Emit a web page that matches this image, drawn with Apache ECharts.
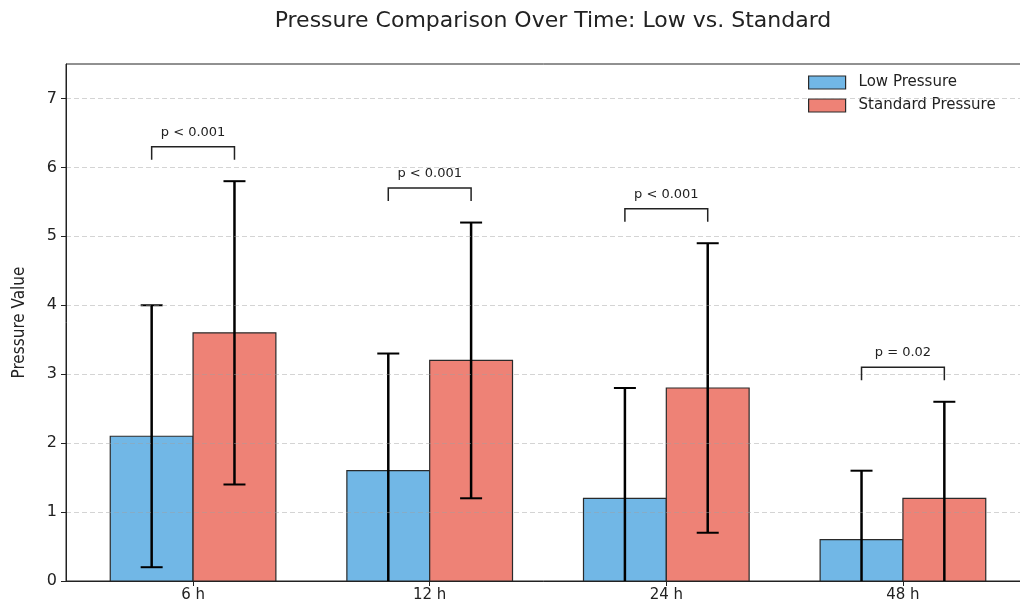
<!DOCTYPE html>
<html>
<head>
<meta charset="utf-8">
<script src="https://cdn.jsdelivr.net/npm/echarts@6/dist/echarts.min.js"></script>
<style>html,body{margin:0;padding:0;background:#fff;}#chart{width:1020px;height:604px;}</style>
</head>
<body>
<div id="chart"></div>
<script>
var categories = ['6 h', '12 h', '24 h', '48 h'];
var lowMeans = [2.1, 1.6, 1.2, 0.6];
var lowErr = [1.9, 1.7, 1.6, 1.0];
var stdMeans = [3.6, 3.2, 2.8, 1.2];
var stdErr = [2.2, 2.0, 2.1, 1.4];
var pLabels = ['p < 0.001', 'p < 0.001', 'p < 0.001', 'p = 0.02'];
var yTicks = [0, 1, 2, 3, 4, 5, 6, 7];

var BAR_W = 0.35;
var FONT = '"DejaVu Sans", "Noto Sans", sans-serif';
var lowColor = '#71B7E6';
var stdColor = '#EE8276';

function barRender(offset, color) {
  return function (params, api) {
    var x = api.value(0) + offset;
    var v = api.value(1);
    var e = api.value(2);
    var p0 = api.coord([x - BAR_W / 2, v]);
    var p1 = api.coord([x + BAR_W / 2, 0]);
    var top = api.coord([x, v + e]);
    var lowV = Math.max(0, v - e);
    var bot = api.coord([x, lowV]);
    var cap = 11;
    var children = [
      {type: 'rect', shape: {x: p0[0], y: p0[1], width: p1[0] - p0[0], height: p1[1] - p0[1]},
       style: {fill: color, stroke: '#2a2a2a', lineWidth: 1.2}},
      {type: 'line', shape: {x1: top[0], y1: top[1], x2: bot[0], y2: bot[1]},
       style: {stroke: '#000', lineWidth: 2.5}},
      {type: 'line', shape: {x1: top[0] - cap, y1: top[1], x2: top[0] + cap, y2: top[1]},
       style: {stroke: '#000', lineWidth: 2}}
    ];
    if (v - e > 0) {
      children.push({type: 'line', shape: {x1: bot[0] - cap, y1: bot[1], x2: bot[0] + cap, y2: bot[1]},
        style: {stroke: '#000', lineWidth: 2}});
    }
    return {type: 'group', children: children};
  };
}

var lowData = categories.map(function (c, i) { return [i, lowMeans[i], lowErr[i]]; });
var stdData = categories.map(function (c, i) { return [i, stdMeans[i], stdErr[i]]; });
var bracketData = categories.map(function (c, i) {
  var level = Math.max(lowMeans[i] + lowErr[i], stdMeans[i] + stdErr[i]) + 0.5;
  return [i, level, pLabels[i]];
});

var chart = echarts.init(document.getElementById('chart'), null, {renderer: 'canvas'});
chart.setOption({
  backgroundColor: '#fff',
  animation: false,
  title: {
    text: 'Pressure Comparison Over Time: Low vs. Standard',
    left: 548, textAlign: 'center', top: 5,
    textStyle: {fontFamily: FONT, fontSize: 22, fontWeight: 'normal', color: '#222'}
  },
  legend: {
    orient: 'vertical', left: 808, top: 75, itemWidth: 37, itemHeight: 13, itemGap: 8, padding: 0,
    textStyle: {fontFamily: FONT, fontSize: 15, color: '#222', padding: [0, 0, 0, 8]},
    data: [
      {name: 'Low Pressure', icon: 'rect', itemStyle: {color: lowColor, borderColor: '#2a2a2a', borderWidth: 1.2}},
      {name: 'Standard Pressure', icon: 'rect', itemStyle: {color: stdColor, borderColor: '#2a2a2a', borderWidth: 1.2}}
    ]
  },
  grid: {left: 66, right: -10, top: 64, bottom: 23, show: true, borderColor: '#222', borderWidth: 1,
    containLabel: false, outerBoundsMode: 'none'},
  xAxis: {
    type: 'value', min: -0.537, max: 3.537, z: 6,
    axisLine: {show: true, onZero: false, lineStyle: {color: '#222', width: 1}},
    axisTick: {show: true, length: 5, lineStyle: {color: '#222'}, customValues: [0, 1, 2, 3]},
    axisLabel: {fontFamily: FONT, fontSize: 15, color: '#222', margin: 7, customValues: [0, 1, 2, 3],
      formatter: function (v) { return categories[Math.round(v)]; }},
    splitLine: {show: false}
  },
  yAxis: {
    type: 'value', min: 0, max: 7.5, interval: 1, z: 5,
    name: 'Pressure Value', nameLocation: 'middle', nameGap: 38,
    nameTextStyle: {fontFamily: '"Liberation Sans Narrow", "DejaVu Sans Condensed", sans-serif', fontSize: 17, color: '#222'},
    axisLine: {show: true, onZero: false, lineStyle: {color: '#222', width: 1}},
    axisTick: {show: true, length: 5, lineStyle: {color: '#222'}, customValues: yTicks},
    axisLabel: {fontFamily: FONT, fontSize: 16, color: '#222', margin: 9, customValues: yTicks},
    splitLine: {show: true, lineStyle: {color: 'rgba(160,160,160,0.45)', type: [5, 3], width: 1}}
  },
  series: [
    {name: 'Low Pressure', type: 'custom', renderItem: barRender(-BAR_W / 2, lowColor), data: lowData,
      itemStyle: {color: lowColor}, encode: {x: 0, y: 1}, z: 2},
    {name: 'Standard Pressure', type: 'custom', renderItem: barRender(BAR_W / 2, stdColor), data: stdData,
      itemStyle: {color: stdColor}, encode: {x: 0, y: 1}, z: 2},
    {name: 'brackets', type: 'custom', data: bracketData, encode: {x: 0, y: 1}, z: 6,
      renderItem: function (params, api) {
        var i = api.value(0);
        var lvl = api.value(1);
        var a = api.coord([i - BAR_W / 2, lvl]);
        var b = api.coord([i + BAR_W / 2, lvl]);
        var drop = 13;
        return {type: 'group', children: [
          {type: 'polyline', shape: {points: [[a[0], a[1] + drop], [a[0], a[1]], [b[0], b[1]], [b[0], b[1] + drop]]},
            style: {stroke: '#222', lineWidth: 1.5, fill: null}},
          {type: 'text', style: {text: bracketData[params.dataIndex][2], x: (a[0] + b[0]) / 2, y: a[1] - 8,
            align: 'center', verticalAlign: 'bottom', fontFamily: FONT, fontSize: 13, fill: '#222'}}
        ]};
      }}
  ]
});
</script>
</body>
</html>
